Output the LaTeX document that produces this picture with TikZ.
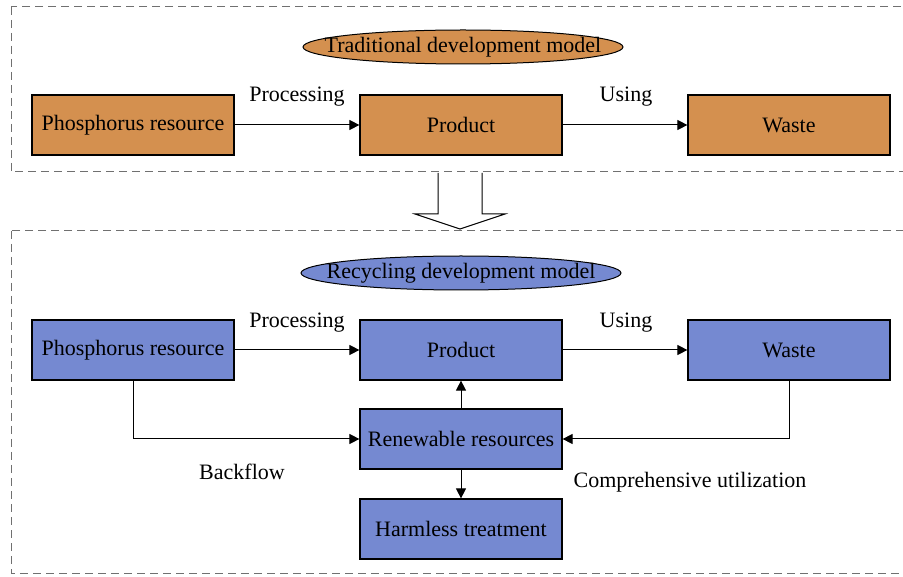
\documentclass[tikz,border=0pt]{standalone}
\usepackage{fontspec}
\setmainfont{Liberation Serif}
\usetikzlibrary{arrows.meta,shapes.geometric}
\definecolor{orangefill}{HTML}{D4904F}
\definecolor{bluefill}{HTML}{7589D1}
\definecolor{panelgray}{HTML}{707070}
\begin{document}
\begin{tikzpicture}[x=1pt,y=-1pt,
  every node/.style={font=\fontsize{22}{26}\selectfont},
  box/.style={draw=black,line width=1.2pt,minimum width=202pt,minimum height=60pt,inner sep=0pt},
  obox/.style={box,fill=orangefill},
  bbox/.style={box,fill=bluefill},
  oval/.style={ellipse,draw=black,line width=1pt,minimum width=320pt,minimum height=34pt,inner xsep=-28pt,inner ysep=0pt},
  panel/.style={draw=panelgray,line width=1pt,dash pattern=on 8pt off 5pt},
  conn/.style={draw=black,line width=1pt,-{Triangle[length=10pt,width=10pt]}},
  lbl/.style={inner sep=0pt}]
\clip (0,0) rectangle (903,577);
\fill[white] (0,0) rectangle (903,577);
% panels
\draw[panel] (11,7) rectangle (915,172);
\draw[panel] (11,231) rectangle (915,573);
% big hollow arrow
\draw[line width=1pt,fill=white] (438,173) -- (438,214) -- (415,214) -- (460,229) -- (505,214) -- (482,214) -- (482,173);
% top panel
\node[oval,fill=orangefill] (t0) at (463,47) {Traditional development model};
\node[obox] (t1) at (133,125) {Phosphorus resource};
\node[obox] (t2) at (461,125) {Product};
\node[obox] (t3) at (789,125) {Waste};
\draw[conn] (t1) -- (t2);
\draw[conn] (t2) -- (t3);
\node[lbl] (tp) at (297,97) {Processing};
\node[lbl] (tu) at (626,97) {Using};
% bottom panel
\node[oval,fill=bluefill] (b0) at (461,273) {Recycling development model};
\node[bbox] (b1) at (133,350) {Phosphorus resource};
\node[bbox] (b2) at (461,350) {Product};
\node[bbox] (b3) at (789,350) {Waste};
\node[bbox] (b4) at (461,439) {Renewable resources};
\node[bbox] (b5) at (461,529) {Harmless treatment};
\draw[conn] (b1) -- (b2);
\draw[conn] (b2) -- (b3);
\draw[conn] (b4) -- (b2);
\draw[conn] (b4) -- (b5);
\draw[conn] (b1.south) |- (b4.west);
\draw[conn] (b3.south) |- (b4.east);
\node[lbl] (bp) at (297,323) {Processing};
\node[lbl] (bu) at (626,323) {Using};
\node[lbl] (bb) at (242,472) {Backflow};
\node[lbl] (bc) at (690,482) {Comprehensive utilization};
\end{tikzpicture}
\end{document}
